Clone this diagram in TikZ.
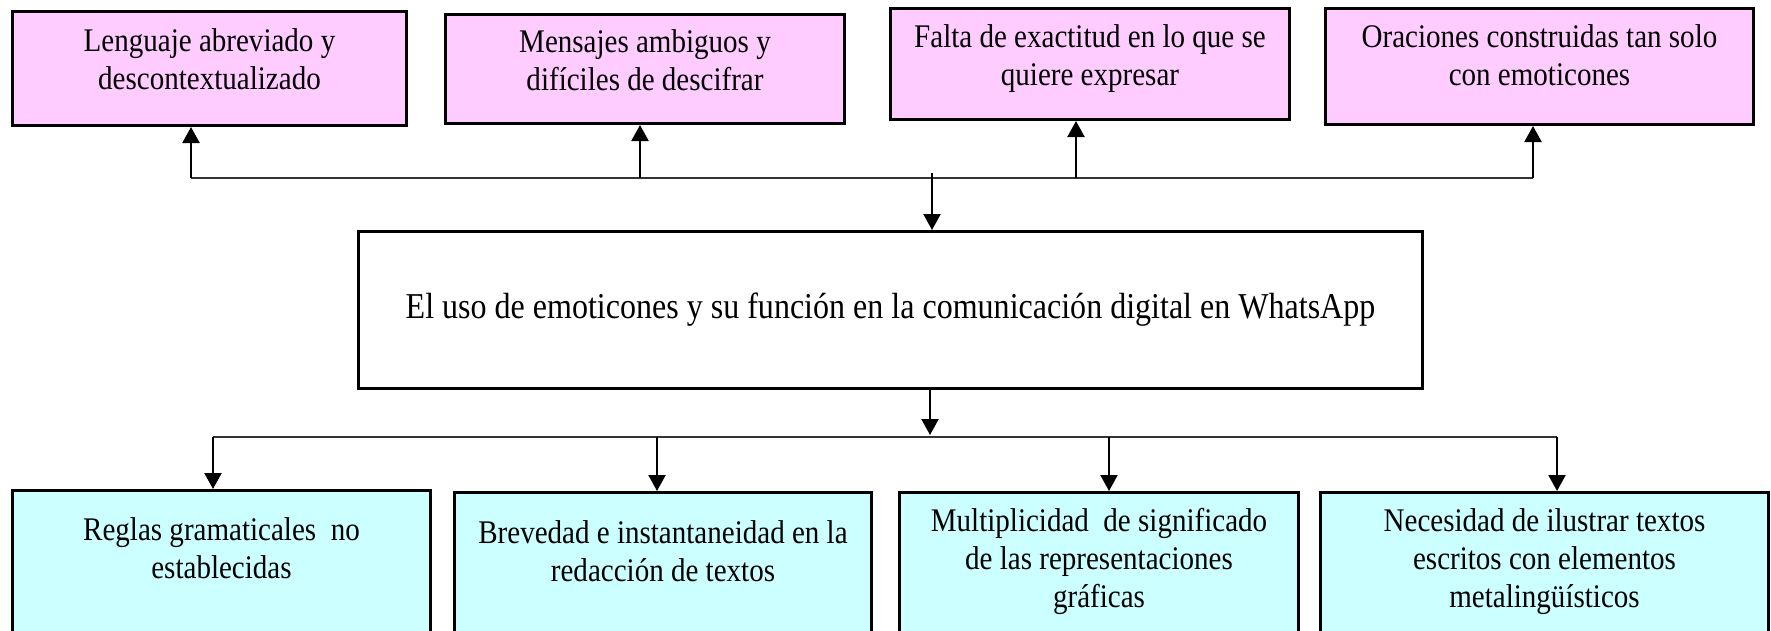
\documentclass[tikz,border=0pt]{standalone}
\usepackage{fontspec}
\setmainfont{Liberation Serif}[FakeStretch=0.88]
\usepackage{tikz}
\usetikzlibrary{arrows.meta,positioning}
\definecolor{pinkbg}{HTML}{FFCCFF}
\definecolor{cyanbg}{HTML}{CCFFFF}

\begin{document}
\begin{tikzpicture}[
  x=0.5pt, y=-0.5pt,
  font=\fontsize{16.5}{19}\selectfont,
  topbox/.style={draw=black, line width=1.5pt, fill=pinkbg, anchor=north west, inner sep=0pt},
  lowbox/.style={draw=black, line width=1.5pt, fill=cyanbg, anchor=north west, inner sep=0pt},
  mainbox/.style={draw=black, line width=1.5pt, fill=white, anchor=north west, inner sep=0pt,
    font=\fontsize{18.2}{21}\selectfont},
  btext/.style={anchor=north, align=center, inner sep=0pt},
  arr/.style={-{Triangle[length=8pt, width=8.5pt]}, line width=1.1pt},
  bus/.style={line width=0.8pt, draw=black!80},
]
  \clip (0,0) rectangle (1771,631);

  \node[topbox, minimum width=197pt, minimum height=57pt,
    label={[btext, yshift=-9pt]north:Lenguaje abreviado y\\descontextualizado}] (lenguaje) at (11,10) {};
  \node[topbox, minimum width=199.5pt, minimum height=54.5pt,
    label={[btext, yshift=-8pt]north:Mensajes ambiguos y\\difíciles de descifrar}] (mensajes) at (444,13) {};
  \node[topbox, minimum width=199.5pt, minimum height=55.5pt,
    label={[btext, yshift=-8.5pt]north:Falta de exactitud en lo que se\\quiere expresar}] (exactitud) at (889,7) {};
  \node[topbox, minimum width=214pt, minimum height=58pt,
    label={[btext, yshift=-8.5pt]north:Oraciones construidas tan solo\\con emoticones}] (oraciones) at (1324,7) {};

  \node[mainbox, minimum width=532pt, minimum height=78.5pt] (emoticones) at (357,230)
    {El uso de emoticones y su función en la comunicación digital en WhatsApp};

  \node[lowbox, minimum width=209pt, minimum height=90pt,
    label={[btext, yshift=-14pt]north:Reglas gramaticales\ \ no\\establecidas}] (reglas) at (11,489) {};
  \node[lowbox, minimum width=208.5pt, minimum height=90pt,
    label={[btext, yshift=-14.5pt]north:Brevedad e instantaneidad en la\\redacción de textos}] (brevedad) at (453,491) {};
  \node[lowbox, minimum width=199.5pt, minimum height=90pt,
    label={[btext, yshift=-8.5pt]north:Multiplicidad\ \ de significado\\de las representaciones\\gráficas}] (multiplicidad) at (898,491) {};
  \node[lowbox, minimum width=224pt, minimum height=90pt,
    label={[btext, yshift=-8.5pt]north:Necesidad de ilustrar textos\\escritos con elementos\\metalingüísticos}] (necesidad) at (1319,491) {};

  \coordinate (up1) at (191,178);
  \coordinate (up2) at (640,178);
  \coordinate (up3) at (1076,178);
  \coordinate (up4) at (1533,178);
  \coordinate (in) at (932,173);
  \coordinate (out) at (930,435);
  \coordinate (dn1) at (213,437);
  \coordinate (dn2) at (657,437);
  \coordinate (dn3) at (1109,437);
  \coordinate (dn4) at (1557,437);

  \draw[bus] (up1) -- (up4);
  \draw[arr] (up1) -- (up1 |- lenguaje.south);
  \draw[arr] (up2) -- (up2 |- mensajes.south);
  \draw[arr] (up3) -- (up3 |- exactitud.south);
  \draw[arr] (up4) -- (up4 |- oraciones.south);
  \draw[arr] (in) -- (in |- emoticones.north);

  \draw[arr] (emoticones.south -| out) -- (out);
  \draw[bus] (dn1) -- (dn4);
  \draw[arr] (dn1) -- (dn1 |- reglas.north);
  \draw[arr] (dn2) -- (dn2 |- brevedad.north);
  \draw[arr] (dn3) -- (dn3 |- multiplicidad.north);
  \draw[arr] (dn4) -- (dn4 |- necesidad.north);
\end{tikzpicture}
\end{document}
